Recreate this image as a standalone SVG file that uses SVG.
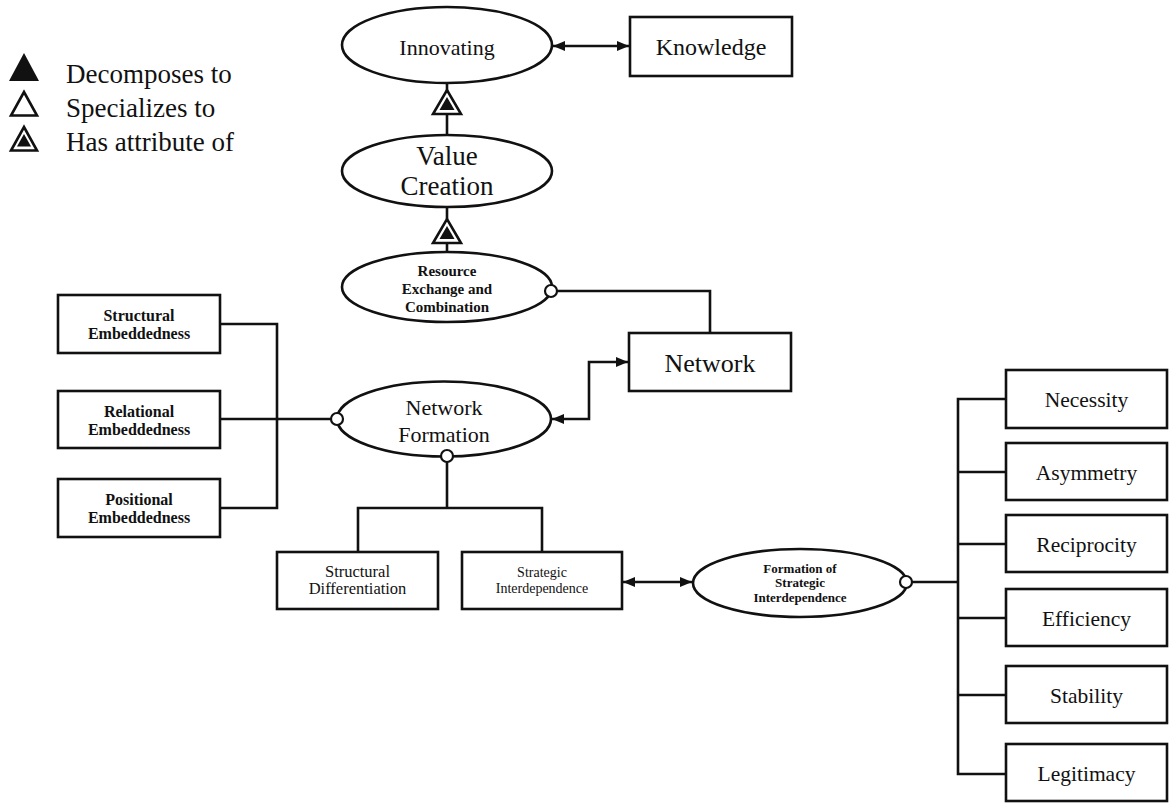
<svg xmlns="http://www.w3.org/2000/svg" width="1169" height="804" viewBox="0 0 1169 804">
  <style>
    .box { fill: #fff; stroke: #111; stroke-width: 2.6; }
    .ell { fill: #fff; stroke: #111; stroke-width: 2.6; }
    .ln { fill: none; stroke: #111; stroke-width: 2.6; }
    .dot { fill: #fff; stroke: #111; stroke-width: 2.2; }
    .t { font-family: "Liberation Serif", "Times New Roman", serif; fill: #111; text-anchor: middle; }
    .lg { font-family: "Liberation Serif", "Times New Roman", serif; fill: #111; font-size: 27px; }
    .b { font-weight: bold; }
  </style>
  <defs>
    <marker id="ah" viewBox="0 0 12 10" refX="12" refY="5" markerWidth="12" markerHeight="10" markerUnits="userSpaceOnUse" orient="auto-start-reverse">
      <path d="M0,0 L12,5 L0,10 Z" fill="#111"/>
    </marker>
  </defs>
  <rect width="1169" height="804" fill="#fff"/>

  <!-- legend -->
  <g id="legend">
    <polygon points="9,81 39,81 24,53" fill="#111"/>
    <polygon points="11,115.5 37,115.5 24,92" fill="none" stroke="#111" stroke-width="2.6"/>
    <polygon points="11,150.5 37,150.5 24,127" fill="none" stroke="#111" stroke-width="2.6"/>
    <polygon points="17,146.5 31,146.5 24,134" fill="#111"/>
    <text class="lg" x="66" y="83">Decomposes to</text>
    <text class="lg" x="66" y="117">Specializes to</text>
    <text class="lg" x="66" y="151">Has attribute of</text>
  </g>

  <!-- connectors -->
  <g id="connectors">
    <!-- Innovating <-> Knowledge -->
    <line class="ln" x1="553" y1="46" x2="629" y2="46" marker-start="url(#ah)" marker-end="url(#ah)"/>
    <!-- Value Creation attribute of Innovating -->
    <line class="ln" x1="447" y1="83" x2="447" y2="91"/>
    <line class="ln" x1="447" y1="114" x2="447" y2="135"/>
    <polygon points="433,114 461,114 447,90" fill="#fff" stroke="#111" stroke-width="2.6"/>
    <polygon points="439.5,110 454.5,110 447,97" fill="#111"/>
    <!-- Resource Exchange attribute of Value Creation -->
    <line class="ln" x1="447" y1="207" x2="447" y2="219"/>
    <line class="ln" x1="447" y1="243" x2="447" y2="252"/>
    <polygon points="433,243 461,243 447,219" fill="#fff" stroke="#111" stroke-width="2.6"/>
    <polygon points="439.5,239 454.5,239 447,226" fill="#111"/>
    <!-- Resource Exchange to Network -->
    <polyline class="ln" points="557,291 710,291 710,333"/>
    <!-- Network Formation <-> Network -->
    <polyline class="ln" points="552,419 589,419 589,362 628,362" marker-start="url(#ah)" marker-end="url(#ah)"/>
    <!-- embeddedness bracket -->
    <polyline class="ln" points="220,324 277,324 277,508 220,508"/>
    <line class="ln" x1="220" y1="419" x2="331" y2="419"/>
    <!-- Network Formation to its two parts -->
    <line class="ln" x1="447" y1="462" x2="447" y2="508"/>
    <polyline class="ln" points="358,552 358,508 542,508 542,552"/>
    <!-- Strategic Interdependence <-> Formation -->
    <line class="ln" x1="623" y1="582" x2="692" y2="582" marker-start="url(#ah)" marker-end="url(#ah)"/>
    <!-- dimensions bracket -->
    <line class="ln" x1="912" y1="582" x2="958" y2="582"/>
    <polyline class="ln" points="1006,399 958,399 958,774 1006,774"/>
    <line class="ln" x1="958" y1="472" x2="1006" y2="472"/>
    <line class="ln" x1="958" y1="544" x2="1006" y2="544"/>
    <line class="ln" x1="958" y1="618" x2="1006" y2="618"/>
    <line class="ln" x1="958" y1="695" x2="1006" y2="695"/>
  </g>

  <!-- nodes -->
  <g id="innovating">
    <ellipse class="ell" cx="447" cy="45" rx="105" ry="38"/>
    <text class="t" x="447" y="55" font-size="22">Innovating</text>
  </g>
  <g id="knowledge">
    <rect class="box" x="630" y="17" width="162" height="59"/>
    <text class="t" x="711" y="55" font-size="24">Knowledge</text>
  </g>
  <g id="value-creation">
    <ellipse class="ell" cx="447" cy="171" rx="105" ry="36"/>
    <text class="t" x="447" y="165" font-size="27">Value</text>
    <text class="t" x="447" y="195" font-size="27">Creation</text>
  </g>
  <g id="resource-exchange">
    <ellipse class="ell" cx="447" cy="287" rx="105" ry="35"/>
    <text class="t b" x="447" y="276" font-size="15">Resource</text>
    <text class="t b" x="447" y="294" font-size="15">Exchange and</text>
    <text class="t b" x="447" y="312" font-size="15">Combination</text>
    <circle class="dot" cx="551" cy="291" r="6"/>
  </g>
  <g id="network">
    <rect class="box" x="629" y="333" width="162" height="58"/>
    <text class="t" x="710" y="372" font-size="26">Network</text>
  </g>
  <g id="network-formation">
    <ellipse class="ell" cx="444" cy="419" rx="107" ry="37.5"/>
    <text class="t" x="444" y="415" font-size="22">Network</text>
    <text class="t" x="444" y="442" font-size="22">Formation</text>
    <circle class="dot" cx="337" cy="419" r="6"/>
    <circle class="dot" cx="447" cy="456" r="6"/>
  </g>
  <g id="structural-embeddedness">
    <rect class="box" x="58" y="295" width="162" height="58"/>
    <text class="t b" x="139" y="321" font-size="16">Structural</text>
    <text class="t b" x="139" y="339" font-size="16">Embeddedness</text>
  </g>
  <g id="relational-embeddedness">
    <rect class="box" x="58" y="391" width="162" height="57"/>
    <text class="t b" x="139" y="417" font-size="16">Relational</text>
    <text class="t b" x="139" y="435" font-size="16">Embeddedness</text>
  </g>
  <g id="positional-embeddedness">
    <rect class="box" x="58" y="479" width="162" height="58"/>
    <text class="t b" x="139" y="505" font-size="16">Positional</text>
    <text class="t b" x="139" y="523" font-size="16">Embeddedness</text>
  </g>
  <g id="structural-differentiation">
    <rect class="box" x="277" y="552" width="161" height="57"/>
    <text class="t" x="357.5" y="577" font-size="16.5">Structural</text>
    <text class="t" x="357.5" y="594" font-size="16.5">Differentiation</text>
  </g>
  <g id="strategic-interdependence">
    <rect class="box" x="462" y="552" width="160" height="57"/>
    <text class="t" x="542" y="577" font-size="14">Strategic</text>
    <text class="t" x="542" y="593" font-size="14">Interdependence</text>
  </g>
  <g id="formation-strategic-interdependence">
    <ellipse class="ell" cx="800" cy="583" rx="107" ry="34"/>
    <text class="t b" x="800" y="573" font-size="13">Formation of</text>
    <text class="t b" x="800" y="587" font-size="13">Strategic</text>
    <text class="t b" x="800" y="602" font-size="13">Interdependence</text>
    <circle class="dot" cx="906" cy="582" r="6"/>
  </g>
  <g id="necessity">
    <rect class="box" x="1006" y="370" width="161" height="58"/>
    <text class="t" x="1086.5" y="407" font-size="21.5">Necessity</text>
  </g>
  <g id="asymmetry">
    <rect class="box" x="1006" y="443" width="161" height="57"/>
    <text class="t" x="1086.5" y="480" font-size="21.5">Asymmetry</text>
  </g>
  <g id="reciprocity">
    <rect class="box" x="1006" y="515" width="161" height="57"/>
    <text class="t" x="1086.5" y="552" font-size="21.5">Reciprocity</text>
  </g>
  <g id="efficiency">
    <rect class="box" x="1006" y="589" width="161" height="57"/>
    <text class="t" x="1086.5" y="626" font-size="21.5">Efficiency</text>
  </g>
  <g id="stability">
    <rect class="box" x="1006" y="666" width="161" height="57"/>
    <text class="t" x="1086.5" y="703" font-size="21.5">Stability</text>
  </g>
  <g id="legitimacy">
    <rect class="box" x="1006" y="744" width="161" height="57"/>
    <text class="t" x="1086.5" y="781" font-size="21.5">Legitimacy</text>
  </g>
</svg>
